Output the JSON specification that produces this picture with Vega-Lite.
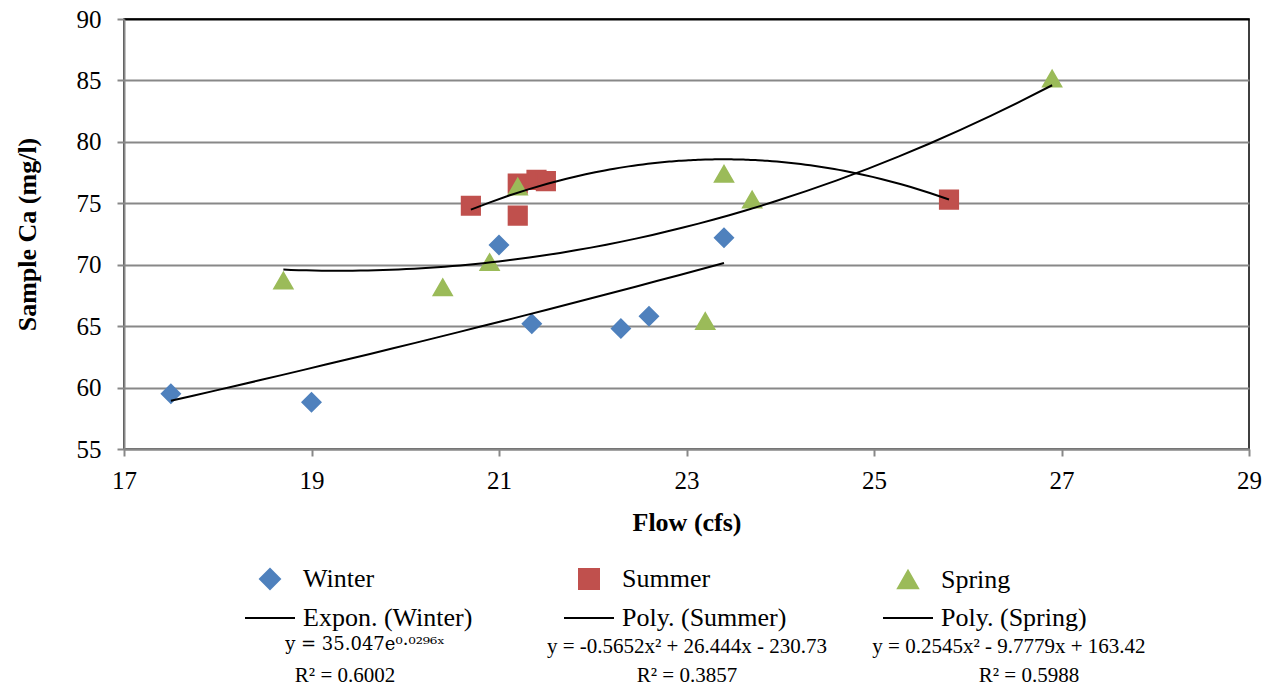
{
  "$schema": "https://vega.github.io/schema/vega-lite/v6.json",
  "width": 1125,
  "height": 430,
  "autosize": "none",
  "padding": {"left": 124, "top": 19, "right": 24, "bottom": 244},
  "background": "white",
  "datasets": {
    "samples": [
      {"series": "Winter", "flow": 17.5, "ca": 59.5},
      {"series": "Winter", "flow": 19.0, "ca": 58.8},
      {"series": "Winter", "flow": 21.0, "ca": 71.6},
      {"series": "Winter", "flow": 21.35, "ca": 65.2},
      {"series": "Winter", "flow": 22.3, "ca": 64.8},
      {"series": "Winter", "flow": 22.6, "ca": 65.8},
      {"series": "Winter", "flow": 23.4, "ca": 72.2},
      {"series": "Summer", "flow": 20.7, "ca": 74.8},
      {"series": "Summer", "flow": 21.2, "ca": 76.6},
      {"series": "Summer", "flow": 21.2, "ca": 74.0},
      {"series": "Summer", "flow": 21.4, "ca": 76.9},
      {"series": "Summer", "flow": 21.5, "ca": 76.8},
      {"series": "Summer", "flow": 25.8, "ca": 75.3},
      {"series": "Spring", "flow": 18.7, "ca": 68.7},
      {"series": "Spring", "flow": 20.4, "ca": 68.15},
      {"series": "Spring", "flow": 20.9, "ca": 70.2},
      {"series": "Spring", "flow": 21.2, "ca": 76.35},
      {"series": "Spring", "flow": 23.2, "ca": 65.4},
      {"series": "Spring", "flow": 23.4, "ca": 77.4},
      {"series": "Spring", "flow": 23.7, "ca": 75.3},
      {"series": "Spring", "flow": 26.9, "ca": 85.15}
    ],
    "equations": [
      {"series": "Winter", "equation": "y = 35.047e⁰·⁰²⁹⁶ˣ", "r2": "R² = 0.6002"},
      {"series": "Summer", "equation": "y = -0.5652x² + 26.444x - 230.73", "r2": "R² = 0.3857"},
      {"series": "Spring", "equation": "y = 0.2545x² - 9.7779x + 163.42", "r2": "R² = 0.5988"}
    ]
  },
  "layer": [
    {
      "data": {"name": "samples"},
      "layer": [
        {
          "mark": {"type": "point", "filled": true, "opacity": 1, "size": 330, "strokeWidth": 2},
          "encoding": {
            "x": {
              "field": "flow", "type": "quantitative",
              "scale": {"domain": [17, 29], "nice": false, "zero": false},
              "axis": {
                "values": [17, 19, 21, 23, 25, 27, 29], "format": "d",
                "title": "Flow (cfs)", "grid": false, "labelFlush": false,
                "labelFontSize": 25, "labelPadding": 12, "titlePadding": 16,
                "titleFontSize": 26, "titleFontWeight": "bold",
                "domainColor": "#888888", "domainWidth": 2, "tickColor": "#888888", "tickWidth": 2, "tickSize": 7
              }
            },
            "y": {
              "field": "ca", "type": "quantitative",
              "scale": {"domain": [55, 90], "nice": false, "zero": false},
              "axis": {
                "values": [55, 60, 65, 70, 75, 80, 85, 90], "format": "d",
                "title": "Sample Ca (mg/l)", "grid": true,
                "gridColor": {"condition": {"test": "datum.value >= 90", "value": "black"}, "value": "#888888"},
                "gridWidth": 2,
                "labelFontSize": 25, "labelPadding": 16, "titlePadding": 36,
                "titleFontSize": 26, "titleFontWeight": "bold",
                "domainColor": "#888888", "domainWidth": 2, "tickColor": "#888888", "tickWidth": 2, "tickSize": 7
              }
            },
            "color": {
              "field": "series", "type": "nominal",
              "scale": {
                "domain": ["Winter", "Summer", "Spring", "Expon. (Winter)", "Poly. (Summer)", "Poly. (Spring)"],
                "range": ["#4F81BD", "#C0504D", "#9BBB59", "black", "black", "black"]
              },
              "legend": {"title": null, "orient": "none", "legendX": 121, "legendY": 547, "columns": 3, "direction": "horizontal", "gridAlign": "all", "symbolStrokeWidth": 2}
            },
            "stroke": {
              "field": "series", "type": "nominal",
              "scale": {
                "domain": ["Winter", "Summer", "Spring", "Expon. (Winter)", "Poly. (Summer)", "Poly. (Spring)"],
                "range": ["#4F81BD", "#C0504D", "#9BBB59", "black", "black", "black"]
              },
              "legend": {"title": null, "orient": "none", "legendX": 121, "legendY": 547, "columns": 3, "direction": "horizontal", "gridAlign": "all", "symbolStrokeWidth": 2}
            },
            "shape": {
              "field": "series", "type": "nominal",
              "scale": {
                "domain": ["Winter", "Summer", "Spring", "Expon. (Winter)", "Poly. (Summer)", "Poly. (Spring)"],
                "range": ["diamond", "square", "triangle-up", "M-2.5,0H2.5", "M-2.5,0H2.5", "M-2.5,0H2.5"]
              },
              "legend": {"title": null, "orient": "none", "legendX": 121, "legendY": 547, "columns": 3, "direction": "horizontal", "gridAlign": "all", "symbolStrokeWidth": 2}
            }
          }
        },
        {
          "transform": [
            {"filter": "datum.series == 'Winter'"},
            {"regression": "ca", "on": "flow", "method": "exp"}
          ],
          "mark": {"type": "line", "color": "black", "strokeWidth": 2},
          "encoding": {
            "x": {"field": "flow", "type": "quantitative"},
            "y": {"field": "ca", "type": "quantitative"}
          }
        },
        {
          "transform": [
            {"filter": "datum.series != 'Winter'"},
            {"regression": "ca", "on": "flow", "method": "poly", "order": 2, "groupby": ["series"]}
          ],
          "mark": {"type": "line", "color": "black", "strokeWidth": 2},
          "encoding": {
            "x": {"field": "flow", "type": "quantitative"},
            "y": {"field": "ca", "type": "quantitative"},
            "detail": {"field": "series", "type": "nominal"}
          }
        }
      ]
    },
    {
      "data": {"name": "equations"},
      "mark": {"type": "text", "text": " ", "opacity": 0},
      "encoding": {
        "x": {
          "field": "equation", "type": "nominal", "sort": null,
          "scale": {"type": "point", "padding": 0.747},
          "axis": {"orient": "bottom", "offset": 186, "title": null, "domain": false, "ticks": false, "grid": false,
                   "labelAngle": 0, "labelPadding": 0, "labelLimit": 600, "labelOverlap": false, "labelColor": "black",
                   "labelFont": {"condition": {"test": "indexof(datum.value, 'e⁰') >= 0", "value": "DejaVu Serif"}, "value": "Liberation Serif"},
                   "labelFontSize": {"condition": {"test": "indexof(datum.value, 'e⁰') >= 0", "value": 18}, "value": 21}}
        }
      }
    },
    {
      "data": {"name": "equations"},
      "mark": {"type": "text", "text": " ", "opacity": 0},
      "encoding": {
        "x": {
          "field": "r2", "type": "nominal", "sort": null,
          "scale": {"type": "point", "padding": 0.645},
          "axis": {"orient": "bottom", "offset": 215, "title": null, "domain": false, "ticks": false, "grid": false,
                   "labelAngle": 0, "labelFontSize": 21, "labelPadding": 0, "labelLimit": 600, "labelOverlap": false, "labelColor": "black"}
        }
      }
    }
  ],
  "resolve": {"scale": {"x": "independent"}, "axis": {"x": "independent"}},
  "config": {
    "font": "Liberation Serif",
    "view": {"stroke": "black", "strokeWidth": 1.5},
    "axis": {"labelFont": "Liberation Serif", "titleFont": "Liberation Serif", "labelColor": "black", "titleColor": "black"},
    "legend": {
      "labelFont": "Liberation Serif", "labelFontSize": 26, "labelColor": "black", "labelLimit": 600,
      "symbolSize": 400, "symbolStrokeWidth": 2, "symbolOffset": 12, "labelOffset": 20,
      "rowPadding": 12, "columnPadding": 87, "padding": 0
    }
  }
}
